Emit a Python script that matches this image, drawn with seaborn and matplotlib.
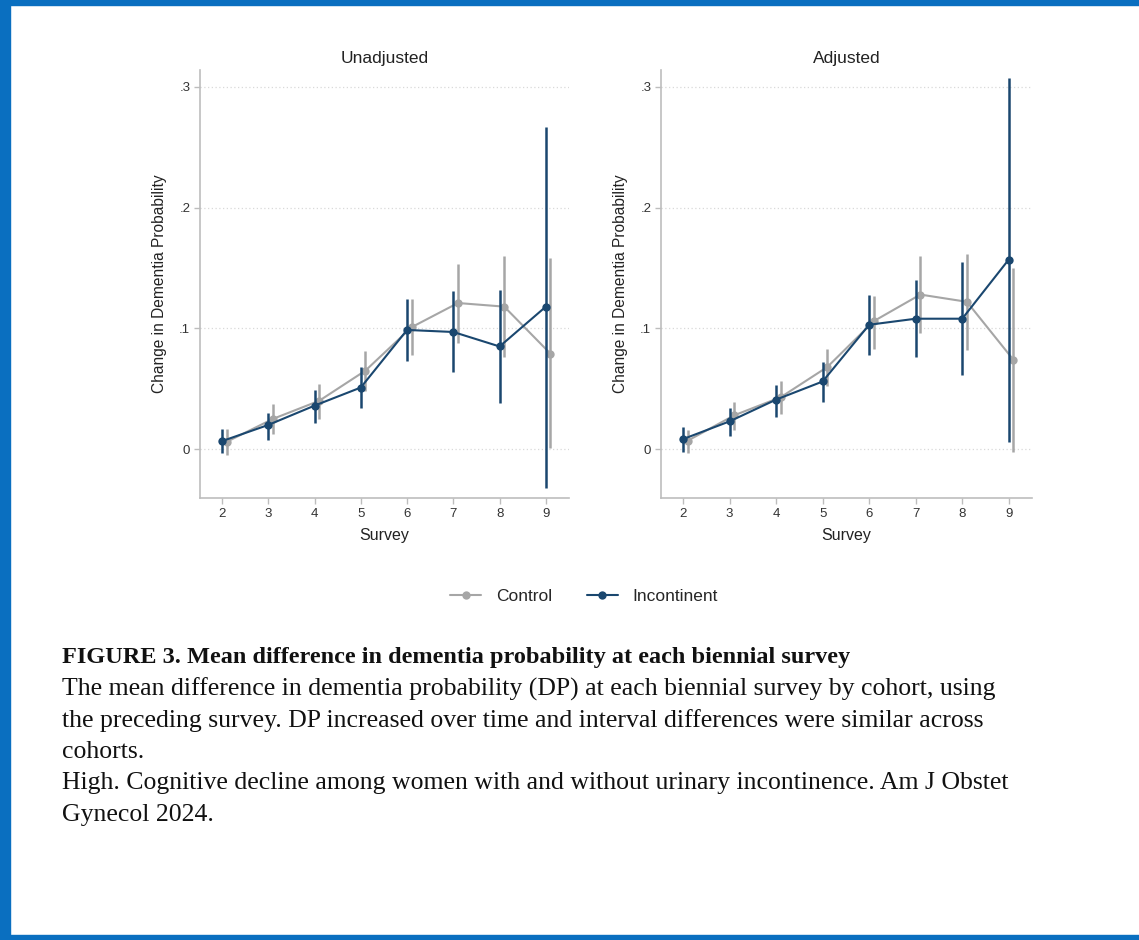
import numpy as np
import pandas as pd
import matplotlib
matplotlib.use("Agg")
import matplotlib.pyplot as plt
from matplotlib.lines import Line2D
from matplotlib.patches import Rectangle
import seaborn as sns

sns.set_theme(style="white")
plt.rcParams["font.family"] = ["Liberation Sans", "DejaVu Sans"]

survey = [2, 3, 4, 5, 6, 7, 8, 9]
panels = ["Unadjusted", "Adjusted"]
groups = ["Control", "Incontinent"]

# unadjusted
unadj_inc = [0.0066, 0.020, 0.036, 0.051, 0.0987, 0.097, 0.085, 0.118]
unadj_inc_lo = [-0.0036, 0.0075, 0.022, 0.034, 0.073, 0.064, 0.038, -0.032]
unadj_inc_hi = [0.017, 0.030, 0.049, 0.068, 0.124, 0.131, 0.132, 0.267]
unadj_ctl = [0.006, 0.025, 0.040, 0.065, 0.101, 0.121, 0.118, 0.079]
unadj_ctl_lo = [-0.005, 0.0124, 0.025, 0.048, 0.078, 0.088, 0.076, 0.0006]
unadj_ctl_hi = [0.017, 0.037, 0.054, 0.081, 0.124, 0.153, 0.160, 0.158]

# adjusted
adj_inc = [0.0083, 0.023, 0.041, 0.056, 0.103, 0.108, 0.108, 0.157]
adj_inc_lo = [-0.002, 0.011, 0.027, 0.039, 0.078, 0.076, 0.061, 0.006]
adj_inc_hi = [0.0185, 0.034, 0.053, 0.072, 0.128, 0.140, 0.155, 0.307]
adj_ctl = [0.007, 0.028, 0.043, 0.068, 0.106, 0.128, 0.122, 0.074]
adj_ctl_lo = [-0.0036, 0.016, 0.029, 0.052, 0.083, 0.096, 0.082, -0.002]
adj_ctl_hi = [0.016, 0.039, 0.056, 0.083, 0.127, 0.160, 0.162, 0.150]

yticks = [0, 0.1, 0.2, 0.3]
ytick_labels = ["0", ".1", ".2", ".3"]

caption_title = "FIGURE 3. Mean difference in dementia probability at each biennial survey"
caption_lines = [
    "The mean difference in dementia probability (DP) at each biennial survey by cohort, using",
    "the preceding survey. DP increased over time and interval differences were similar across",
    "cohorts.",
    "High. Cognitive decline among women with and without urinary incontinence. Am J Obstet",
    "Gynecol 2024.",
]

rows = []
for panel, data in zip(panels, [
    (unadj_ctl, unadj_ctl_lo, unadj_ctl_hi, unadj_inc, unadj_inc_lo, unadj_inc_hi),
    (adj_ctl, adj_ctl_lo, adj_ctl_hi, adj_inc, adj_inc_lo, adj_inc_hi),
]):
    for i, s in enumerate(survey):
        rows.append((panel, "Control", s + 0.1, data[0][i], data[1][i], data[2][i]))
        rows.append((panel, "Incontinent", s, data[3][i], data[4][i], data[5][i]))
df = pd.DataFrame(rows, columns=["panel", "group", "x", "y", "lo", "hi"])

palette = {"Control": "#a6a6a6", "Incontinent": "#1a476f"}

W, H = 1139, 940
fig = plt.figure(figsize=(W / 100, H / 100), dpi=100)
ax_pos = [[200, 70, 569, 498], [661, 70, 1032, 498]]

for panel, (x0, y0, x1, y1) in zip(panels, ax_pos):
    ax = fig.add_axes([x0 / W, 1 - y1 / H, (x1 - x0) / W, (y1 - y0) / H])
    sub = df[df.panel == panel]
    for g in groups:
        d = sub[sub.group == g]
        ax.vlines(d.x, d.lo, d.hi, color=palette[g], lw=1.8, zorder=2 if g == "Control" else 4)
    sns.lineplot(data=sub[sub.group == "Control"], x="x", y="y", color=palette["Control"],
                 marker="o", markersize=6, markeredgewidth=0, lw=1.5, ax=ax, zorder=3)
    sns.lineplot(data=sub[sub.group == "Incontinent"], x="x", y="y", color=palette["Incontinent"],
                 marker="o", markersize=6, markeredgewidth=0, lw=1.5, ax=ax, zorder=5)
    ax.set_xlim(1.525, 9.5)
    ax.set_ylim(-0.0405, 0.314)
    ax.set_xticks(survey)
    ax.set_xticklabels([str(s) for s in survey])
    ax.set_yticks(yticks)
    ax.set_yticklabels(ytick_labels)
    for yv in yticks:
        ax.axhline(yv, color="#d9d9d9", lw=0.9, ls=(0, (1, 2)), zorder=1)
    for sp in ["top", "right"]:
        ax.spines[sp].set_visible(False)
    for sp in ["left", "bottom"]:
        ax.spines[sp].set_color("#bdbdbd")
        ax.spines[sp].set_linewidth(1.2)
    ax.tick_params(axis="both", which="major", direction="out", length=4, width=1,
                   color="#bdbdbd", labelsize=9.5, labelcolor="#333333", pad=3, bottom=True, left=True)
    ax.set_title(panel, fontsize=12.5, color="#222222", pad=5)
    ax.set_xlabel("Survey", fontsize=11.5, color="#222222", labelpad=6)
    ax.set_ylabel("Change in Dementia Probability", fontsize=11.2, color="#222222", labelpad=9)
    ax.set_facecolor("white")

handles = [Line2D([], [], color=palette[g], marker="o", markersize=6, markeredgewidth=0, lw=1.5) for g in groups]
fig.legend(handles, groups, loc="center", bbox_to_anchor=(584 / W, 1 - 596 / H), ncol=2,
           frameon=False, fontsize=12.5, handlelength=1.8, columnspacing=2.0, handletextpad=0.85)

serif = ["Liberation Serif", "DejaVu Serif"]
fig.text(62 / W, 1 - 657 / H, caption_title, fontsize=17.5, fontweight="bold",
         family=serif, va="center", ha="left", color="#111111")
for k, line in enumerate(caption_lines):
    fig.text(62 / W, 1 - (689 + 31.5 * k) / H, line, fontsize=18.5, family=serif,
             va="center", ha="left", color="#111111")

# blue frame
blue = "#0a6fc0"
fig.patches.append(Rectangle((0, 1 - 5 / H), 1, 5 / H, transform=fig.transFigure, color=blue))
fig.patches.append(Rectangle((0, 0), 10 / W, 1, transform=fig.transFigure, color=blue))
fig.patches.append(Rectangle((0, 0), 1, 5 / H, transform=fig.transFigure, color=blue))

fig.savefig("out.png", dpi=100, facecolor="white")
